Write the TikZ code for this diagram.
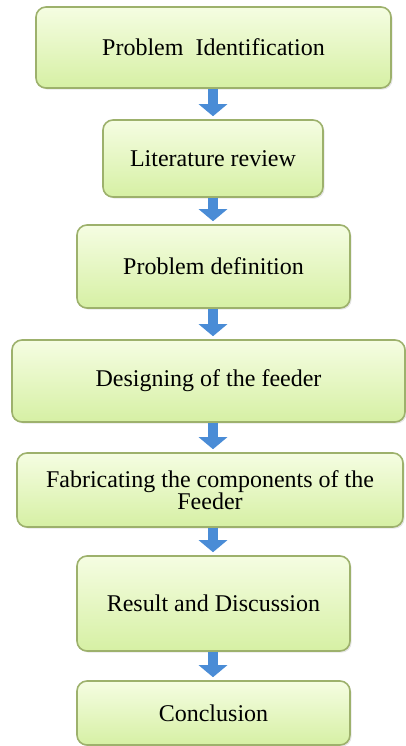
\documentclass[tikz,border=0pt]{standalone}
\usepackage{fontspec}
\setmainfont{Liberation Serif}
\definecolor{fdtop}{RGB}{245,253,226}
\definecolor{fdbot}{RGB}{214,240,164}
\definecolor{fdedge}{RGB}{157,177,108}
\definecolor{fdblue}{RGB}{74,140,214}
\usetikzlibrary{arrows.meta,positioning,shadows}

\begin{document}
\begin{tikzpicture}[x=0.5pt,y=-0.5pt,
  stage/.style={draw=fdedge,line width=0.8pt,rounded corners=5pt,top color=fdtop,bottom color=fdbot,
    align=center,font=\fontsize{12}{11}\selectfont,inner sep=2pt,
    drop shadow={opacity=0.2,shadow xshift=0.8pt,shadow yshift=-0.8pt}},
  flow/.style={draw=fdblue,line width=5pt,-{Triangle[length=6pt,width=14pt]},shorten >=1.5pt}
]
  \useasboundingbox (0,0) rectangle (406,746);
  % Stage 1: identification
  \node[stage,minimum width=177.5pt,minimum height=40.5pt] (s1) at (213.5,47.5) {Problem\ \ Identification};
  % Stage 2: literature
  \node[stage,minimum width=110pt,minimum height=38.5pt] (s2) at (213,158.5) {Literature review};
  % Stage 3: definition
  \node[stage,minimum width=136.5pt,minimum height=41.5pt] (s3) at (213.5,266.5) {Problem definition};
  % Stage 4: design
  \node[stage,minimum width=196.5pt,minimum height=41pt] (s4) at (208.5,381) {Designing of the feeder};
  % Stage 5: fabrication
  \node[stage,minimum width=193pt,minimum height=37pt] (s5) at (210,490) {Fabricating the components of the\\Feeder};
  % Stage 6: results
  \node[stage,minimum width=136.5pt,minimum height=47.5pt] (s6) at (213.5,603.5) {Result and Discussion};
  % Stage 7: conclusion
  \node[stage,minimum width=136.5pt,minimum height=32pt] (s7) at (213.5,713) {Conclusion};
  % Flow arrows
  \foreach \a/\b in {s1/s2,s2/s3,s3/s4,s4/s5,s5/s6,s6/s7}
    \draw[flow] (\a.south -| s2.south) -- (\b.north -| s2.north);
\end{tikzpicture}
\end{document}
